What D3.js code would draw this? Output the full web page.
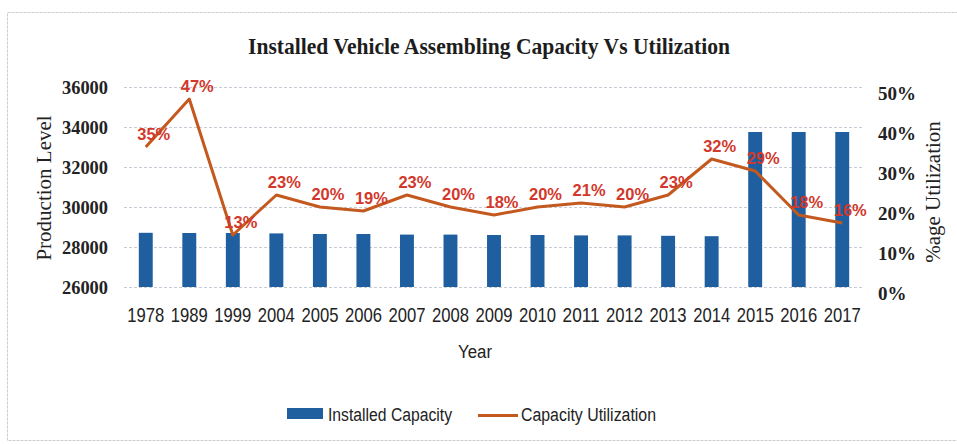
<!DOCTYPE html>
<html lang="en">
	<head>
		<meta charset="UTF-8" />
		<script src="https://d3js.org/d3.v7.min.js"></script>
		<title>Installed Vehicle Assembling Capacity Vs Utilization</title>
		<style>
			body { margin: 0; background: #fff; }
		</style>
	</head>
	<body>
		<svg width="957" height="444"></svg>
		<script>
			const years = ["1978", "1989", "1999", "2004", "2005", "2006", "2007", "2008", "2009",
				"2010", "2011", "2012", "2013", "2014", "2015", "2016", "2017"];
			const capacity = [28710, 28700, 28700, 28680, 28650, 28650, 28620, 28620, 28600,
				28600, 28580, 28580, 28560, 28540, 33750, 33750, 33750];
			const utilization = [0.35, 0.47, 0.13, 0.23, 0.20, 0.19, 0.23, 0.20, 0.18,
				0.20, 0.21, 0.20, 0.23, 0.32, 0.29, 0.18, 0.16];
			const leftTicks = [26000, 28000, 30000, 32000, 34000, 36000];
			const rightTicks = [0, 0.1, 0.2, 0.3, 0.4, 0.5];

			const blue = "#1f5f9f";
			const orange = "#c4591f";
			const red = "#d2382b";
			const serif = "'Liberation Serif', 'Times New Roman', serif";
			const sans = "'Liberation Sans', Arial, sans-serif";
			const pct = d3.format(".0%");

			const svg = d3.select("svg");

			// dashed frame around chart area
			svg.append("rect")
				.attr("x", 7.5).attr("y", 12.5)
				.attr("width", 960).attr("height", 428)
				.attr("fill", "none")
				.attr("stroke", "#c9cdd2")
				.attr("stroke-dasharray", "3,1");

			const x = d3.scaleBand()
				.domain(years)
				.range([124, 864])
				.paddingInner(0.68)
				.paddingOuter(0.34);
			const yL = d3.scaleLinear().domain([26000, 36000]).range([287, 87]);
			const yR = d3.scaleLinear().domain([0, 0.5]).range([287, 87]);

			// gridlines
			svg.append("g")
				.selectAll("line")
				.data(leftTicks)
				.join("line")
				.attr("x1", 124).attr("x2", 864)
				.attr("y1", d => yL(d) + 0.5).attr("y2", d => yL(d) + 0.5)
				.attr("stroke", "#c6ccd6")
				.attr("stroke-dasharray", "3,2");

			// left axis
			const gl = svg.append("g")
				.attr("transform", "translate(116,0)")
				.call(d3.axisLeft(yL).tickValues(leftTicks).tickSize(0).tickPadding(8)
					.tickFormat(d3.format("d")));
			gl.select(".domain").remove();
			gl.selectAll("text")
				.attr("font-family", serif)
				.attr("font-size", 19)
				.attr("font-weight", "bold")
				.attr("fill", "#222")
				.attr("textLength", 46)
				.attr("lengthAdjust", "spacingAndGlyphs");

			// right axis
			const gr = svg.append("g")
				.attr("transform", "translate(870,6)")
				.call(d3.axisRight(yR).tickValues(rightTicks).tickSize(0).tickPadding(8)
					.tickFormat(pct));
			gr.select(".domain").remove();
			gr.selectAll("text")
				.attr("font-family", serif)
				.attr("font-size", 19)
				.attr("font-weight", "bold")
				.attr("fill", "#222");

			// x axis labels
			const gx = svg.append("g")
				.attr("transform", "translate(0,299)")
				.call(d3.axisBottom(x).tickSize(0).tickPadding(8));
			gx.select(".domain").remove();
			gx.selectAll("text")
				.attr("font-family", sans)
				.attr("font-size", 21)
				.attr("fill", "#222")
				.attr("textLength", 37)
				.attr("lengthAdjust", "spacingAndGlyphs");

			// bars
			svg.append("g")
				.selectAll("rect")
				.data(years)
				.join("rect")
				.attr("x", d => x(d))
				.attr("width", x.bandwidth())
				.attr("y", (d, i) => yL(capacity[i]))
				.attr("height", (d, i) => yL(26000) - yL(capacity[i]))
				.attr("fill", blue);

			// utilization line
			const line = d3.line()
				.x((d, i) => x(years[i]) + x.bandwidth() / 2)
				.y(d => yR(d));
			svg.append("path")
				.datum(utilization)
				.attr("d", line)
				.attr("fill", "none")
				.attr("stroke", orange)
				.attr("stroke-width", 3)
				.attr("stroke-linejoin", "round");

			// data labels
			svg.append("g")
				.selectAll("text")
				.data(utilization)
				.join("text")
				.attr("x", (d, i) => x(years[i]) + x.bandwidth() / 2 + 8)
				.attr("y", d => yR(d) - 7)
				.attr("text-anchor", "middle")
				.attr("font-family", sans)
				.attr("font-weight", "bold")
				.attr("font-size", 17)
				.attr("fill", red)
				.attr("textLength", 33)
				.attr("lengthAdjust", "spacingAndGlyphs")
				.text(d => pct(d));

			// title
			svg.append("text")
				.attr("x", 489).attr("y", 54)
				.attr("text-anchor", "middle")
				.attr("font-family", serif)
				.attr("font-weight", "bold")
				.attr("font-size", 24)
				.attr("textLength", 482)
				.attr("lengthAdjust", "spacingAndGlyphs")
				.attr("fill", "#1d1d1d")
				.text("Installed Vehicle Assembling Capacity Vs Utilization");

			// axis titles
			svg.append("text")
				.attr("transform", "translate(51,188) rotate(-90)")
				.attr("text-anchor", "middle")
				.attr("font-family", serif)
				.attr("font-size", 21)
				.attr("fill", "#222")
				.text("Production Level");
			svg.append("text")
				.attr("transform", "translate(940,192) rotate(-90)")
				.attr("text-anchor", "middle")
				.attr("font-family", serif)
				.attr("font-size", 21)
				.attr("fill", "#222")
				.text("%age Utilization");
			svg.append("text")
				.attr("x", 475).attr("y", 358)
				.attr("text-anchor", "middle")
				.attr("font-family", sans)
				.attr("font-size", 18)
				.attr("fill", "#222")
				.attr("textLength", 34)
				.attr("lengthAdjust", "spacingAndGlyphs")
				.text("Year");

			// legend
			const lg = svg.append("g").attr("transform", "translate(287,0)");
			lg.append("rect")
				.attr("x", 0).attr("y", 408)
				.attr("width", 36).attr("height", 11)
				.attr("fill", blue);
			lg.append("text")
				.attr("x", 41).attr("y", 421)
				.attr("font-family", sans)
				.attr("font-size", 18)
				.attr("fill", "#222")
				.attr("textLength", 124)
				.attr("lengthAdjust", "spacingAndGlyphs")
				.text("Installed Capacity");
			lg.append("line")
				.attr("x1", 191).attr("x2", 231)
				.attr("y1", 415.5).attr("y2", 415.5)
				.attr("stroke", orange)
				.attr("stroke-width", 3);
			lg.append("text")
				.attr("x", 234).attr("y", 421)
				.attr("font-family", sans)
				.attr("font-size", 18)
				.attr("fill", "#222")
				.attr("textLength", 135)
				.attr("lengthAdjust", "spacingAndGlyphs")
				.text("Capacity Utilization");
		</script>
	</body>
</html>
